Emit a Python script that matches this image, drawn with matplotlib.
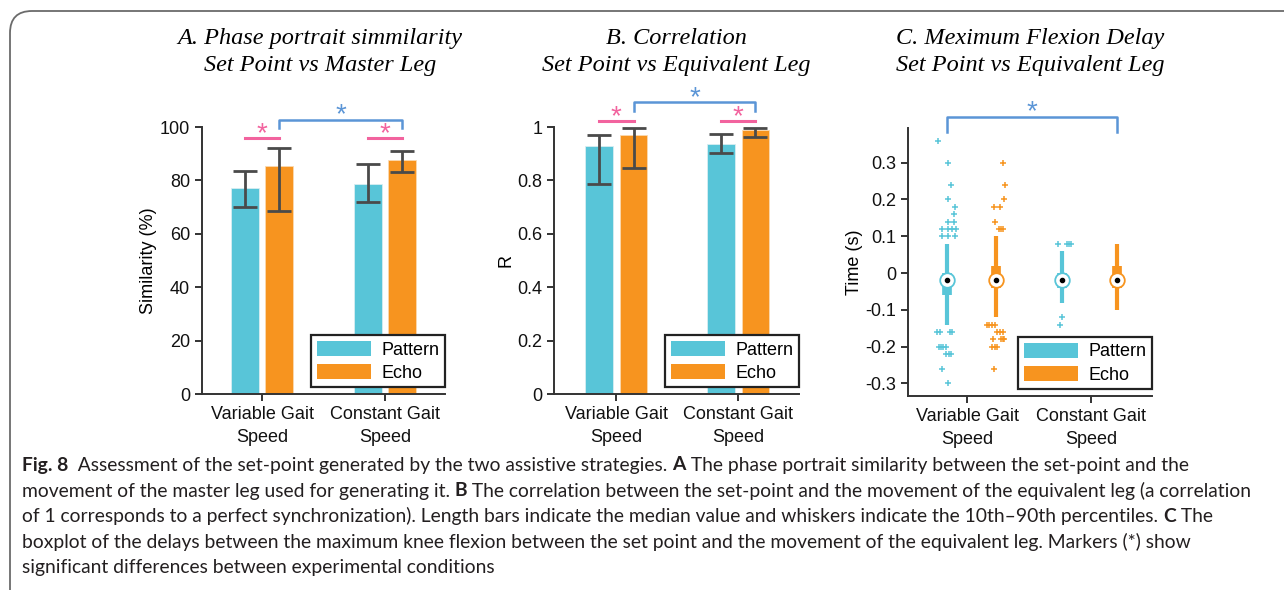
import numpy as np
import matplotlib
matplotlib.use('Agg')
import matplotlib.pyplot as plt
from matplotlib.patches import FancyBboxPatch, Patch

plt.rcParams['font.family'] = ['Liberation Sans', 'DejaVu Sans']
plt.rcParams['axes.linewidth'] = 1.4

# ---- data ----
groups = ['Variable Gait\nSpeed', 'Constant Gait\nSpeed']
series = ['Pattern', 'Echo']

# A. similarity (%) : median, 10th, 90th percentiles  [VG, CG]
sim_pattern = [77.0, 78.7]
sim_pattern_lo = [70.0, 72.0]
sim_pattern_hi = [83.5, 86.0]
sim_echo = [85.3, 87.5]
sim_echo_lo = [68.5, 83.3]
sim_echo_hi = [92.0, 91.0]

# B. correlation R
r_pattern = [0.928, 0.935]
r_pattern_lo = [0.787, 0.902]
r_pattern_hi = [0.970, 0.973]
r_echo = [0.972, 0.988]
r_echo_lo = [0.845, 0.962]
r_echo_hi = [0.995, 0.998]

# C. delay boxplot stats: [VG pattern, VG echo, CG pattern, CG echo]
delay_median = [-0.02, -0.02, -0.02, -0.02]
delay_q1 = [-0.06, -0.04, -0.04, -0.04]
delay_q3 = [0.0, 0.02, 0.0, 0.02]
delay_wlo = [-0.14, -0.12, -0.08, -0.10]
delay_whi = [0.08, 0.10, 0.06, 0.08]

out_vg_pattern = [0.36, 0.30, 0.24, 0.20, 0.18, 0.16, 0.14, 0.14, 0.12, 0.12, 0.12, 0.12,
                  0.10, 0.10, 0.10, -0.16, -0.16, -0.16, -0.16, -0.20, -0.20, -0.20, -0.20,
                  -0.22, -0.22, -0.22, -0.26, -0.30]
jit_vg_pattern = [-9, 1, 4, 1, 8, 7, 1, 7, -5, 1, 5, 9, -5, 1, 8, -10, -7, 3, 5, -8, -6, -4, -1,
                  -1, 2, 4, -5, 1]
out_vg_echo = [0.30, 0.24, 0.20, 0.18, 0.18, 0.14, 0.12, 0.12, 0.12, -0.14, -0.14, -0.14, -0.14,
               -0.16, -0.16, -0.16, -0.18, -0.18, -0.18, -0.18, -0.20, -0.20, -0.20, -0.26]
jit_vg_echo = [7, 9, 8, -2, 4, -1, 3, 5, 7, -9, -7, -4, -1, 1, 4, 7, -3, 5, 7, 8, -4, -1, 1, -2]
out_cg_pattern = [0.08, 0.08, 0.08, 0.08, -0.12, -0.14]
jit_cg_pattern = [-4, 5, 7, 9, 0, -2]
out_cg_echo = []
jit_cg_echo = []

c_pat = '#58C5D8'
c_echo = '#F7941F'
c_err = '#4A4A4A'
c_pink = '#F2639E'
c_blue = '#5B95D6'
c_axis = '#333333'

fig = plt.figure(figsize=(12.84, 5.9), dpi=100)

# rounded frame around the figure
frame = FancyBboxPatch((10, -30), 1320, 609, boxstyle='round,pad=0,rounding_size=22',
                       transform=None, fill=False, edgecolor='#6b6b6b', lw=1.3)
fig.patches.append(frame)


def style_axes(ax):
    for s in ['top', 'right']:
        ax.spines[s].set_visible(False)
    for s in ['left', 'bottom']:
        ax.spines[s].set_color(c_axis)
    ax.tick_params(direction='out', length=5, width=1.4, color=c_axis, labelsize=13,
                   labelcolor='#111111')
    ax.set_xticks([1, 2])
    ax.set_xticklabels(groups, fontsize=13, linespacing=1.5)


def add_legend(ax, anchor):
    handles = [Patch(facecolor=c_pat, label=series[0]), Patch(facecolor=c_echo, label=series[1])]
    lg = ax.legend(handles=handles, loc='lower right', bbox_to_anchor=anchor, fontsize=13,
                   handlelength=3.0, handleheight=0.9, handletextpad=0.6, borderpad=0.3,
                   labelspacing=0.3, borderaxespad=0, fancybox=False, framealpha=1,
                   edgecolor='#222222')
    lg.get_frame().set_linewidth(1.6)


def star(ax, x, y, color):
    ax.text(x, y, '*', color=color, ha='center', va='center', fontsize=20,
            clip_on=False)


def bars(ax, pat, pat_lo, pat_hi, echo, echo_lo, echo_hi):
    x = np.array([1, 2])
    off = 0.142
    w = 0.228
    ax.bar(x - off, pat, w, color=c_pat, edgecolor='#d8eef2', lw=0.6, zorder=2)
    ax.bar(x + off, echo, w, color=c_echo, edgecolor='#fbd9b0', lw=0.6, zorder=2)
    ax.errorbar(x - off, pat, yerr=[np.array(pat) - pat_lo, np.array(pat_hi) - pat], fmt='none',
                ecolor=c_err, elinewidth=2, capsize=8.5, capthick=2, zorder=3)
    ax.errorbar(x + off, echo, yerr=[np.array(echo) - echo_lo, np.array(echo_hi) - echo],
                fmt='none', ecolor=c_err, elinewidth=2, capsize=8.5, capthick=2, zorder=3)
    return x, off


# ---------- A ----------
axA = fig.add_axes([0.1573, 0.3322, 0.1893, 0.4525])
x, off = bars(axA, sim_pattern, sim_pattern_lo, sim_pattern_hi, sim_echo, sim_echo_lo, sim_echo_hi)
axA.set_xlim(0.512, 2.488)
axA.set_ylim(0, 100)
axA.set_yticks([0, 20, 40, 60, 80, 100])
style_axes(axA)
axA.set_ylabel('Similarity (%)', fontsize=13, labelpad=2)
for xi in x:
    axA.plot([xi - off, xi + off], [95.9, 95.9], color=c_pink, lw=2.2, clip_on=False)
    star(axA, xi, 97.4, c_pink)
axA.plot([1 + off, 1 + off, 2 + off, 2 + off], [99.6, 102.6, 102.6, 99.6], color=c_blue, lw=1.8,
         clip_on=False)
star(axA, 1.5 + off, 104.5, c_blue)
add_legend(axA, (1.0, 0.026))

# ---------- B ----------
axB = fig.add_axes([0.4315, 0.3322, 0.1908, 0.4525])
x, off = bars(axB, r_pattern, r_pattern_lo, r_pattern_hi, r_echo, r_echo_lo, r_echo_hi)
axB.set_xlim(0.49, 2.5)
axB.set_ylim(0, 1)
axB.set_yticks([0, 0.2, 0.4, 0.6, 0.8, 1])
axB.set_yticklabels(['0', '0.2', '0.4', '0.6', '0.8', '1'])
style_axes(axB)
axB.set_ylabel('R', fontsize=13, labelpad=2)
for xi in x:
    axB.plot([xi - off, xi + off], [1.022, 1.022], color=c_pink, lw=2.2, clip_on=False)
    star(axB, xi, 1.037, c_pink)
axB.plot([1 + off, 1 + off, 2 + off, 2 + off], [1.06, 1.094, 1.094, 1.06], color=c_blue, lw=1.8,
         clip_on=False)
star(axB, 1.5 + off, 1.108, c_blue)
add_legend(axB, (1.0, 0.026))

# ---------- C ----------
axC = fig.add_axes([0.7072, 0.3288, 0.190, 0.4542])
box_x = [1 - 0.16, 1 + 0.234, 2 - 0.234, 2 + 0.21]
box_c = [c_pat, c_echo, c_pat, c_echo]
outs = [out_vg_pattern, out_vg_echo, out_cg_pattern, out_cg_echo]
jits = [jit_vg_pattern, jit_vg_echo, jit_cg_pattern, jit_cg_echo]
for i in range(4):
    axC.plot([box_x[i], box_x[i]], [delay_wlo[i], delay_whi[i]], color=box_c[i], lw=3.0,
             solid_capstyle='butt', zorder=2)
    axC.plot([box_x[i], box_x[i]], [delay_q1[i], delay_q3[i]], color=box_c[i], lw=7.0,
             solid_capstyle='butt', zorder=3)
    axC.plot(box_x[i], delay_median[i], 'o', ms=10.5, mfc='white', mec=box_c[i], mew=1.3, zorder=4)
    axC.plot(box_x[i], delay_median[i], 'o', ms=3, color='black', zorder=5)
    if outs[i]:
        ox = box_x[i] + np.array(jits[i]) / 124.0
        axC.plot(ox, outs[i], '+', color=box_c[i], ms=4.5, mew=1.1, zorder=2)
axC.set_xlim(0.524, 2.49)
axC.set_ylim(-0.334, 0.394)
axC.set_yticks([-0.3, -0.2, -0.1, 0, 0.1, 0.2, 0.3])
axC.set_yticklabels(['-0.3', '-0.2', '-0.1', '0', '0.1', '0.2', '0.3'])
style_axes(axC)
axC.set_ylabel('Time (s)', fontsize=13, labelpad=2)
axC.plot([box_x[0], box_x[0], box_x[3], box_x[3]], [0.383, 0.424, 0.424, 0.383], color=c_blue,
         lw=1.8, clip_on=False)
star(axC, (box_x[0] + box_x[3]) / 2, 0.438, c_blue)
add_legend(axC, (1.0, 0.026))

# ---------- titles ----------
tfont = dict(family='Liberation Serif', style='italic', fontsize=17.5, ha='center', va='center',
             linespacing=1.42)
fig.text(320 / 1284, 1 - 52 / 590, 'A. Phase portrait simmilarity\nSet Point vs Master Leg', **tfont)
fig.text(676 / 1284, 1 - 52 / 590, 'B. Correlation\nSet Point vs Equivalent Leg', **tfont)
fig.text(1030 / 1284, 1 - 52 / 590, 'C. Meximum Flexion Delay\nSet Point vs Equivalent Leg', **tfont)

# ---------- caption ----------
cap_lines = [
    [('Fig. 8', True), ('  Assessment of the set-point generated by the two assistive strategies. ', False),
     ('A', True), (' The phase portrait similarity between the set-point and the', False)],
    [('movement of the master leg used for generating it. ', False), ('B', True),
     (' The correlation between the set-point and the movement of the equivalent leg (a correlation', False)],
    [('of 1 corresponds to a perfect synchronization). Length bars indicate the median value and '
      'whiskers indicate the 10th\u201390th percentiles. ', False), ('C', True), (' The', False)],
    [('boxplot of the delays between the maximum knee flexion between the set point and the '
      'movement of the equivalent leg. Markers (*) show', False)],
    [('significant differences between experimental conditions', False)],
]
cap_y = [465, 491, 516, 542, 567]
cfont = dict(family=['Lato', 'DejaVu Sans'], fontsize=13.9, color='#231f20')
for line, yy in zip(cap_lines, cap_y):
    last = None
    for txt, bold in line:
        fw = 'bold' if bold else 'normal'
        if last is None:
            last = fig.text(22 / 1284, 1 - yy / 590, txt, ha='left', va='center', fontweight=fw,
                            **cfont)
        else:
            last = plt.annotate(txt, xy=(1, 0), xycoords=last, xytext=(0, 0),
                                textcoords='offset points', ha='left', va='bottom',
                                fontweight=fw, annotation_clip=False, **cfont)

fig.savefig('out.png', dpi=100)
